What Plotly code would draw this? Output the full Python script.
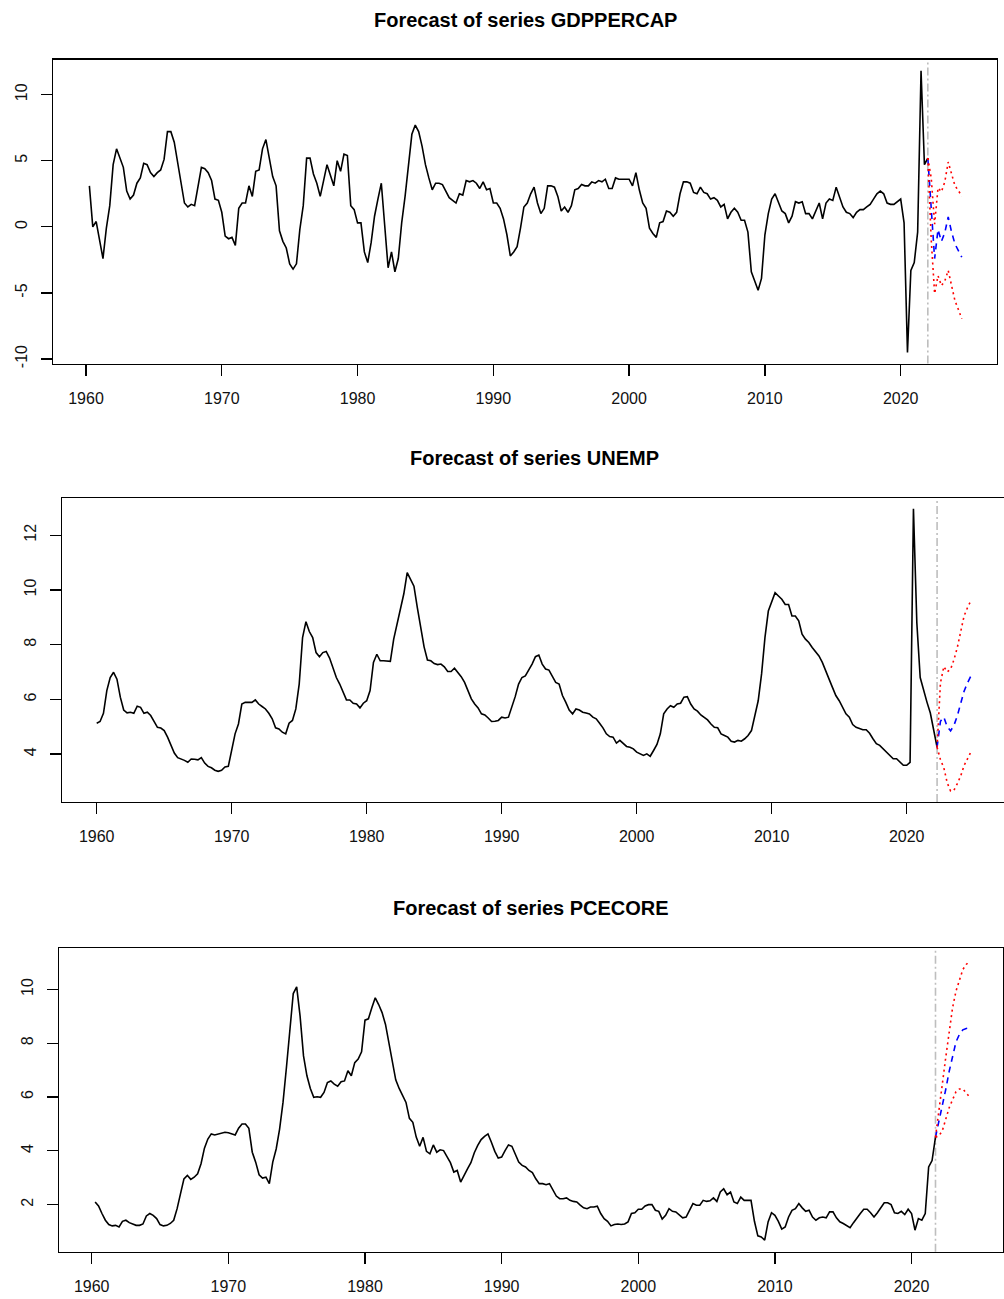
import plotly.graph_objects as go

# ---------------- data ----------------
year_ticks = [1960, 1970, 1980, 1990, 2000, 2010, 2020]

# GDPPERCAP, quarterly, first observation 1960 Q2
gdp_start = 1960.25
gdp_values = [
    3.1, 0.0, 0.4, -1.1, -2.4, -0.1, 1.6, 4.7, 5.9, 5.2,
    4.5, 2.7, 2.1, 2.4, 3.3, 3.7, 4.8, 4.7, 4.1, 3.8,
    4.1, 4.3, 5.1, 7.2, 7.2, 6.4, 4.9, 3.3, 1.8, 1.5,
    1.7, 1.6, 3.1, 4.5, 4.4, 4.1, 3.5, 2.1, 2.0, 1.1,
    -0.7, -0.9, -0.8, -1.4, 1.4, 1.8, 1.8, 3.1, 2.3, 4.2,
    4.3, 5.9, 6.6, 5.3, 3.8, 3.1, -0.3, -1.1, -1.6, -2.8,
    -3.2, -2.8, -0.2, 1.6, 5.2, 5.2, 4.0, 3.3, 2.3, 3.5,
    4.7, 3.9, 3.1, 5.0, 4.2, 5.5, 5.4, 1.6, 1.3, 0.3,
    0.3, -1.9, -2.7, -1.2, 0.8, 2.1, 3.3, 0.1, -3.1, -1.9,
    -3.4, -2.4, 0.3, 2.3, 4.6, 7.0, 7.7, 7.2, 6.1, 4.7,
    3.7, 2.8, 3.3, 3.3, 3.2, 2.7, 2.2, 2.0, 1.8, 2.5,
    2.4, 3.5, 3.4, 3.5, 3.3, 2.9, 3.4, 2.8, 2.9, 1.8,
    1.8, 1.4, 0.6, -0.6, -2.2, -1.9, -1.5, -0.1, 1.5, 1.8,
    2.5, 3.0, 1.8, 1.0, 1.4, 3.1, 3.1, 3.0, 2.3, 1.2,
    1.5, 1.1, 1.6, 2.8, 2.9, 3.2, 3.1, 3.1, 3.4, 3.3,
    3.5, 3.4, 3.6, 2.9, 2.9, 3.7, 3.6, 3.6, 3.6, 3.6,
    3.1, 4.1, 2.8, 1.8, 1.4, -0.1, -0.5, -0.8, 0.3, 0.4,
    1.2, 1.1, 0.8, 1.1, 2.5, 3.4, 3.4, 3.3, 2.6, 2.5,
    3.0, 2.6, 2.5, 2.1, 2.2, 2.0, 1.5, 1.7, 0.6, 1.1,
    1.4, 1.1, 0.5, 0.5, -0.4, -3.4, -4.1, -4.8, -3.9, -0.6,
    1.0, 2.1, 2.5, 1.9, 1.2, 1.0, 0.3, 0.8, 1.9, 1.8,
    1.9, 1.0, 1.0, 0.6, 1.2, 1.8, 0.6, 1.8, 2.1, 2.0,
    3.0, 2.3, 1.5, 1.1, 1.0, 0.7, 1.1, 1.3, 1.3, 1.5,
    1.7, 2.1, 2.5, 2.7, 2.5, 1.8, 1.7, 1.7, 1.9, 2.1,
    0.3, -9.5, -3.3, -2.7, -0.4, 11.8, 4.7, 5.2,
]
gdp_fcst = [1.4, -2.4, -0.2, -1.1, -0.45, 0.75, -0.4, -1.3, -1.8, -2.3]
gdp_lower = [-1.0, -5.05, -3.7, -4.45, -4.1, -3.3, -4.45, -5.6, -6.25, -6.95]
gdp_upper = [3.7, 0.2, 2.95, 2.65, 3.4, 4.9, 4.0, 3.1, 2.75, 2.3]
gdp_yticks = [-10, -5, 0, 5, 10]

# UNEMP, quarterly, first observation 1960 Q1
unemp_start = 1960.0
unemp_values = [
    5.13, 5.19, 5.49, 6.32, 6.80, 6.99, 6.74, 6.08, 5.61, 5.51,
    5.53, 5.49, 5.75, 5.71, 5.49, 5.53, 5.41, 5.17, 4.98, 4.95,
    4.86, 4.62, 4.32, 4.04, 3.87, 3.83, 3.77, 3.70, 3.82, 3.81,
    3.79, 3.87, 3.67, 3.55, 3.50, 3.41, 3.37, 3.41, 3.53, 3.55,
    4.13, 4.74, 5.10, 5.83, 5.89, 5.88, 5.89, 5.98, 5.83, 5.74,
    5.65, 5.49, 5.29, 4.96, 4.92, 4.80, 4.74, 5.13, 5.23, 5.65,
    6.56, 8.26, 8.84, 8.48, 8.26, 7.71, 7.56, 7.71, 7.75, 7.51,
    7.11, 6.80, 6.56, 6.26, 5.98, 5.98, 5.86, 5.83, 5.69, 5.86,
    5.95, 6.32, 7.35, 7.65, 7.41, 7.41, 7.39, 7.39, 8.20, 8.75,
    9.38, 9.86, 10.63, 10.38, 10.14, 9.35, 8.56, 7.92, 7.44, 7.41,
    7.31, 7.27, 7.29, 7.19, 7.02, 7.02, 7.14, 6.99, 6.83, 6.62,
    6.32, 6.02, 5.83, 5.69, 5.47, 5.43, 5.32, 5.19, 5.20, 5.23,
    5.35, 5.32, 5.35, 5.71, 6.10, 6.56, 6.80, 6.86, 7.05, 7.29,
    7.56, 7.62, 7.29, 7.11, 7.07, 6.83, 6.62, 6.56, 6.14, 5.89,
    5.61, 5.47, 5.65, 5.61, 5.53, 5.50, 5.47, 5.35, 5.29, 5.13,
    4.96, 4.74, 4.64, 4.62, 4.40, 4.50, 4.38, 4.28, 4.25, 4.19,
    4.07, 4.01, 3.95, 4.01, 3.92, 4.13, 4.35, 4.74, 5.47, 5.65,
    5.77, 5.71, 5.83, 5.86, 6.08, 6.10, 5.83, 5.65, 5.57, 5.43,
    5.35, 5.25, 5.10, 4.98, 4.96, 4.74, 4.68, 4.62, 4.47, 4.44,
    4.50, 4.47, 4.56, 4.68, 4.86, 5.35, 5.95, 6.93, 8.26, 9.23,
    9.54, 9.90, 9.78, 9.66, 9.47, 9.47, 9.05, 9.05, 8.87, 8.38,
    8.20, 8.08, 7.90, 7.75, 7.59, 7.35, 7.07, 6.74, 6.44, 6.14,
    5.95, 5.69, 5.47, 5.35, 5.08, 4.98, 4.92, 4.89, 4.89, 4.76,
    4.56, 4.38, 4.32, 4.19, 4.07, 3.95, 3.83, 3.83, 3.70, 3.59,
    3.59, 3.70, 12.97, 8.8, 6.8, 6.3, 5.9, 5.5, 4.9, 4.25,
]
unemp_fcst = [5.2, 5.35, 5.0, 4.85, 5.05, 5.4, 5.85, 6.3, 6.6, 6.85]
unemp_lower = [3.8, 3.5, 2.95, 2.65, 2.68, 2.92, 3.2, 3.58, 3.85, 4.07]
unemp_upper = [6.6, 7.2, 7.0, 7.1, 7.45, 7.9, 8.5, 9.05, 9.35, 9.6]
unemp_yticks = [4, 6, 8, 10, 12]

# PCECORE, quarterly, first observation 1960 Q2
pce_start = 1960.25
pce_values = [
    2.10, 1.95, 1.67, 1.42, 1.26, 1.21, 1.23, 1.17, 1.38, 1.42,
    1.33, 1.27, 1.23, 1.23, 1.28, 1.58, 1.67, 1.60, 1.48, 1.26,
    1.21, 1.23, 1.30, 1.42, 1.85, 2.41, 2.96, 3.09, 2.94, 3.02,
    3.15, 3.52, 4.10, 4.44, 4.63, 4.59, 4.63, 4.67, 4.69, 4.67,
    4.63, 4.59, 4.84, 5.00, 5.00, 4.84, 3.95, 3.58, 3.11, 2.99,
    3.02, 2.78, 3.58, 4.07, 4.81, 5.80, 7.10, 8.64, 9.85, 10.10,
    9.01, 7.53, 6.79, 6.32, 5.99, 6.01, 5.99, 6.17, 6.54, 6.60,
    6.48, 6.40, 6.57, 6.60, 6.98, 6.79, 7.28, 7.41, 7.68, 8.86,
    8.91, 9.32, 9.69, 9.44, 9.14, 8.70, 7.96, 7.28, 6.64, 6.32,
    6.05, 5.80, 5.21, 5.06, 4.51, 4.17, 4.50, 3.98, 3.89, 4.22,
    3.95, 4.04, 4.01, 3.77, 3.56, 3.21, 3.27, 2.84, 3.11, 3.33,
    3.56, 3.93, 4.20, 4.42, 4.54, 4.63, 4.32, 3.98, 3.73, 3.77,
    4.01, 4.22, 4.17, 3.89, 3.58, 3.46, 3.40, 3.27, 3.19, 2.96,
    2.78, 2.78, 2.74, 2.78, 2.57, 2.32, 2.22, 2.22, 2.25, 2.16,
    2.12, 2.10, 1.98, 1.88, 1.85, 1.91, 1.91, 1.94, 1.67, 1.48,
    1.38, 1.21, 1.26, 1.28, 1.26, 1.28, 1.36, 1.67, 1.70, 1.83,
    1.83, 1.95, 2.00, 2.00, 1.79, 1.75, 1.46, 1.60, 1.85, 1.75,
    1.73, 1.60, 1.51, 1.54, 1.79, 2.04, 1.98, 1.98, 2.16, 2.12,
    2.14, 2.25, 2.12, 2.47, 2.59, 2.37, 2.47, 2.10, 2.04, 2.28,
    2.16, 2.16, 2.16, 1.38, 0.84, 0.80, 0.68, 1.36, 1.70, 1.60,
    1.38, 1.09, 1.17, 1.54, 1.79, 1.85, 2.04, 1.88, 1.75, 1.79,
    1.54, 1.42, 1.51, 1.54, 1.51, 1.73, 1.73, 1.51, 1.36, 1.30,
    1.23, 1.14, 1.33, 1.48, 1.67, 1.83, 1.83, 1.70, 1.54, 1.70,
    1.88, 2.07, 2.07, 2.00, 1.70, 1.67, 1.75, 1.63, 1.83, 1.67,
    1.05, 1.48, 1.42, 1.67, 3.40, 3.64, 4.51,
]
pce_fcst = [5.07, 5.6, 6.28, 6.95, 7.55, 8.05, 8.33, 8.5, 8.55, 8.57]
pce_lower = [4.55, 4.75, 5.2, 5.6, 5.9, 6.2, 6.3, 6.3, 6.15, 6.0]
pce_upper = [5.61, 6.48, 7.47, 8.46, 9.32, 9.94, 10.37, 10.74, 10.93, 11.05]
pce_yticks = [2, 4, 6, 8, 10]

series_names = ["GDPPERCAP", "UNEMP", "PCECORE"]

# ---------------- layout geometry (pixels in a 1004 x 1299 page) ----------------
W, H = 1004, 1299
panels = [
    dict(box=(53.3, 996.7, 60.0, 365.0), xr=(1957.592, 2027.072), yr=(-10.347, 12.637),
         title_x=525.0, title_y=20.0, mirror_y=True),
    dict(box=(62.3, 1004.0, 500.0, 805.0), xr=(1957.452, 2027.207), yr=(2.252, 13.359),
         title_x=534.0, title_y=460.0, mirror_y=False),
    dict(box=(59.3, 1002.7, 951.7, 1256.7), xr=(1957.628, 2026.669), yr=(0.244, 11.541),
         title_x=531.0, title_y=912.0, mirror_y=True),
]
series = [
    (gdp_start, gdp_values, gdp_fcst, gdp_lower, gdp_upper, gdp_yticks),
    (unemp_start, unemp_values, unemp_fcst, unemp_lower, unemp_upper, unemp_yticks),
    (pce_start, pce_values, pce_fcst, pce_lower, pce_upper, pce_yticks),
]

FONT = "Liberation Sans, Arial, Helvetica, sans-serif"
LW = 1.6

fig = go.Figure()
layout = dict(
    width=W, height=H, margin=dict(l=0, r=0, t=0, b=0),
    paper_bgcolor="white", plot_bgcolor="white", showlegend=False,
    font=dict(family=FONT, size=16, color="black"),
)
shapes, annotations = [], []

for i, (name, p, s) in enumerate(zip(series_names, panels, series)):
    start, vals, fc, lo, up, yt = s
    n = i + 1
    xa = "x" if n == 1 else f"x{n}"
    ya = "y" if n == 1 else f"y{n}"
    times = [start + 0.25 * k for k in range(len(vals))]
    t_end = times[-1]
    f_times = [t_end] + [t_end + 0.25 * (k + 1) for k in range(len(fc))]

    fig.add_trace(go.Scatter(x=times, y=vals, mode="lines", xaxis=xa, yaxis=ya,
                             line=dict(color="black", width=LW), hoverinfo="skip"))
    fig.add_trace(go.Scatter(x=f_times, y=[vals[-1]] + fc, mode="lines", xaxis=xa, yaxis=ya,
                             line=dict(color="#0000FF", width=LW, dash="6px,5px"), hoverinfo="skip"))
    for band in (lo, up):
        fig.add_trace(go.Scatter(x=f_times, y=[vals[-1]] + band, mode="lines", xaxis=xa, yaxis=ya,
                                 line=dict(color="#FF0000", width=LW, dash="2px,3.5px"), hoverinfo="skip"))

    x0, x1, y0, y1 = p["box"]
    axis_common = dict(showline=True, linecolor="black", linewidth=1.3, ticks="outside",
                       ticklen=11, tickwidth=1.3, tickcolor="black", showgrid=False,
                       zeroline=False, fixedrange=True,
                       tickfont=dict(family=FONT, size=16, color="#111111"))
    layout["xaxis" if n == 1 else f"xaxis{n}"] = dict(
        axis_common, domain=[x0 / W, x1 / W], range=list(p["xr"]), anchor=ya,
        tickvals=year_ticks, ticktext=[str(v) for v in year_ticks], mirror=True,
        ticklabelstandoff=9)
    layout["yaxis" if n == 1 else f"yaxis{n}"] = dict(
        axis_common, domain=[1 - y1 / H, 1 - y0 / H], range=list(p["yr"]), anchor=xa,
        tickvals=yt, ticktext=[str(v) for v in yt], tickangle=-90,
        mirror=p["mirror_y"], ticklabelstandoff=8)

    shapes.append(dict(type="line", xref=xa, yref=f"{ya} domain", x0=t_end, x1=t_end, y0=0, y1=1,
                       line=dict(color="#BEBEBE", width=1.6, dash="8px,3px,2px,3px"), layer="below"))
    annotations.append(dict(text=f"<b>Forecast of series {name}</b>", xref="paper", yref="paper",
                            x=p["title_x"] / W, y=1 - p["title_y"] / H, xanchor="center",
                            yanchor="middle", showarrow=False,
                            font=dict(family=FONT, size=20, color="black")))

layout["shapes"] = shapes
layout["annotations"] = annotations
fig.update_layout(**layout)

fig.write_html("out.html", config={"displayModeBar": False, "staticPlot": True},
               post_script="document.body.style.margin='0';document.body.style.overflow='hidden';")
